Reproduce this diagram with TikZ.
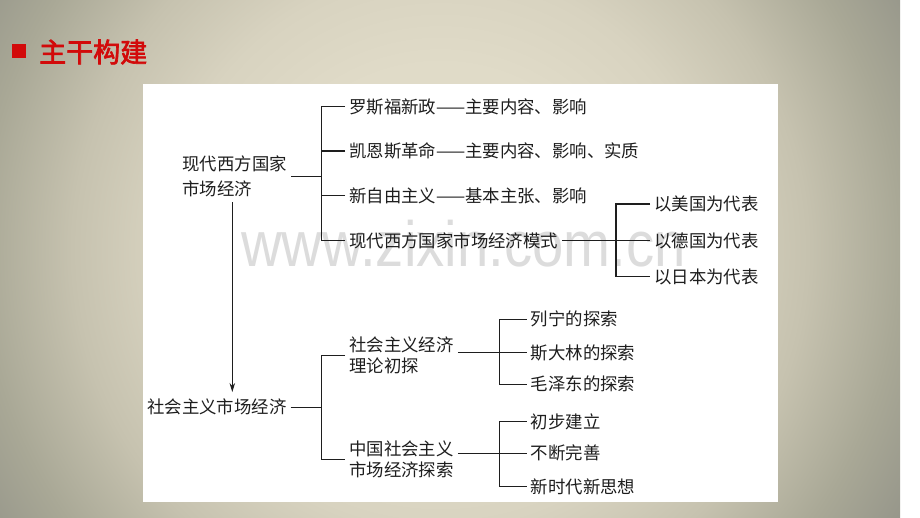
\documentclass[tikz,border=0pt]{standalone}
\usepackage{fontspec}
\newfontfamily\cjk{Noto Sans CJK SC}
\newfontfamily\cjkb[FakeBold=2.5]{Noto Sans CJK SC}
\newfontfamily\wmfont{Liberation Sans}
\usetikzlibrary{arrows.meta}
\definecolor{bgA}{HTML}{E0DBC8}
\definecolor{bgB}{HTML}{D8D3C0}
\definecolor{bgC}{HTML}{C6C2AF}
\definecolor{bgD}{HTML}{A9A896}
\definecolor{bgE}{HTML}{96968A}
\definecolor{titlered}{HTML}{D20A0A}
\definecolor{wmgray}{HTML}{DCDCDC}
\definecolor{inkc}{HTML}{1E1E1E}
\pgfdeclareradialshading{bgshade}{\pgfpoint{0bp}{0bp}}{color(0bp)=(bgA); color(10bp)=(bgA); color(15bp)=(bgB); color(20bp)=(bgC); color(25bp)=(bgD); color(29bp)=(bgE); color(50bp)=(bgE)}
\tikzset{
  lbl/.style={font=\cjk\fontsize{17.4}{21}\selectfont, inner xsep=4pt, inner ysep=0pt, anchor=west, text=inkc, align=left},
  ln/.style={line width=1.05pt, draw=inkc},
}
\begin{document}
\begin{tikzpicture}[x=1pt,y=-1pt]
\useasboundingbox (0,0) rectangle (920,518);
\begin{scope}
  \clip (0,0) rectangle (920,518);
  \shade[shading=bgshade] (-20,-210) rectangle (900,710);
\end{scope}
% title
\node[fill=titlered, minimum size=14pt, inner sep=0pt] (sq) at (19,51) {};
\node[anchor=west, inner sep=0pt, text=titlered, font=\cjkb\fontsize{27}{30}\selectfont] (title) at (39,52) {主干构建};
% white panel
\fill[white] (143,84) rectangle (778,502);
% watermark
\node[anchor=base, inner sep=0pt, text=wmgray, xscale=0.88, font=\wmfont\fontsize{64}{64}\selectfont] (wm) at (463.5,267) {www.zixin.com.cn};
% nodes
\node[lbl, font=\cjk\fontsize{17.4}{25}\selectfont] (root) at (178.3,176.5) {现代西方国家\\市场经济};
\node[lbl] (c1) at (345,106.7) {罗斯福新政——主要内容、影响};
\node[lbl] (c2) at (345,151) {凯恩斯革命——主要内容、影响、实质};
\node[lbl] (c3) at (345,195.7) {新自由主义——基本主张、影响};
\node[lbl] (c4) at (345,240.7) {现代西方国家市场经济模式};
\node[lbl] (us) at (650,204) {以美国为代表};
\node[lbl] (de) at (650,240.7) {以德国为代表};
\node[lbl] (jp) at (650,276.7) {以日本为代表};
\node[lbl] (sm) at (143,407.3) {社会主义市场经济};
\node[lbl] (t1) at (345,355.5) {社会主义经济\\理论初探};
\node[lbl] (t2) at (345,459.7) {中国社会主义\\市场经济探索};
\node[lbl] (l1) at (526.7,319.3) {列宁的探索};
\node[lbl] (l2) at (526.7,352.7) {斯大林的探索};
\node[lbl] (l3) at (526.7,384.3) {毛泽东的探索};
\node[lbl] (m1) at (526.7,421.7) {初步建立};
\node[lbl] (m2) at (526.7,453.3) {不断完善};
\node[lbl] (m3) at (526.7,486.7) {新时代新思想};
% bracket coordinates
\coordinate (b1) at (321.3,0);
\coordinate (b2) at (616,0);
\coordinate (b4) at (499.3,0);
\coordinate (ax) at (232.3,0);
% connectors
\draw[ln] (root.east) -- (root.east -| b1);
\draw[ln] (c1.west) -- (c1.west -| b1) -- (c4.west -| b1) -- (c4.west);
\draw[ln] (c2.west) -- (c2.west -| b1);
\draw[ln] (c3.west) -- (c3.west -| b1);
\draw[ln] (c4.east) -- (de.west);
\draw[ln] (us.west) -- (us.west -| b2) -- (jp.west -| b2) -- (jp.west);
\draw[ln, line width=1pt, -{Stealth[length=9pt,width=5.5pt]}, shorten <=5pt, shorten >=7pt] (root.south -| ax) -- (sm.north -| ax);
\draw[ln] (sm.east) -- (sm.east -| b1);
\draw[ln] (t1.west) -- (t1.west -| b1) -- (t2.west -| b1) -- (t2.west);
\draw[ln] (t1.east |- l2.west) -- (l2.west);
\draw[ln] (l1.west) -- (l1.west -| b4) -- (l3.west -| b4) -- (l3.west);
\draw[ln] (t2.east |- m2.west) -- (m2.west);
\draw[ln] (m1.west) -- (m1.west -| b4) -- (m3.west -| b4) -- (m3.west);
\end{tikzpicture}
\end{document}
